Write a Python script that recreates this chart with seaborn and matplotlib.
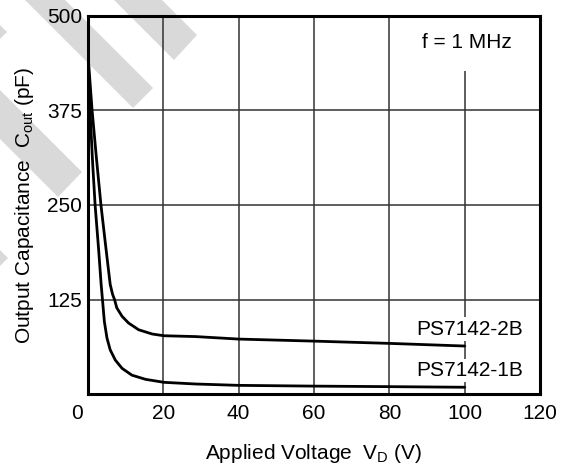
import numpy as np
import pandas as pd
import seaborn as sns
import matplotlib.pyplot as plt
import matplotlib.transforms as mtransforms
from matplotlib.patches import Polygon

# Curve data
v_1b = [0.1, 0.6, 1.3, 1.95, 2.9, 3.55, 3.9, 4.4, 5.1, 5.95, 7.3, 9.1, 11.7, 15.3, 20.2, 28.6, 40, 60, 80, 100]
c_1b = [446, 375, 305, 250, 190, 145, 125, 96, 74, 58.5, 45, 34, 25, 19.5, 15.5, 13.3, 11.5, 10.5, 9.8, 9.0]

v_2b = [0.1, 1.15, 2.3, 3.5, 4.7, 5.95, 6.6, 7.1, 7.7, 9.1, 10.8, 13.5, 17.1, 20.2, 28.6, 40, 60, 80, 100]
c_2b = [446, 375, 312, 250, 198, 145, 131.6, 125, 114, 102.8, 94, 85, 79.4, 77.1, 76, 72.7, 70, 67, 63.5]

x_ticks = [0, 20, 40, 60, 80, 100, 120]
y_ticks = [125, 250, 375, 500]

df = pd.concat([
    pd.DataFrame({'voltage': v_1b, 'cap': c_1b, 'device': 'PS7142-1B'}),
    pd.DataFrame({'voltage': v_2b, 'cap': c_2b, 'device': 'PS7142-2B'}),
])

sns.set_theme(style='white')
plt.rcParams['font.family'] = ['Liberation Sans', 'DejaVu Sans']
plt.rcParams['mathtext.fontset'] = 'custom'
plt.rcParams['mathtext.rm'] = 'Liberation Sans'

fig = plt.figure(figsize=(5.68, 4.68), dpi=100)
fig.patch.set_facecolor('white')

# grey diagonal watermark bands behind the chart (pixel coords, y down)
bands = [((197, 35), (174, 60)), ((153, 88), (133, 108)), ((82, 172), (58, 197)),
         ((8, 258), (-16, 282)), ((7, 32), (-17, 56))]
L = 400
for (x1, y1), (x2, y2) in bands:
    pts = [(x1, y1), (x2, y2), (x2 - L, y2 - L), (x1 - L, y1 - L)]
    pts = [(x / 568, 1 - y / 468) for x, y in pts]
    fig.add_artist(Polygon(pts, closed=True, transform=fig.transFigure,
                           facecolor='#d9d9d9', edgecolor='none', zorder=-1))

ax = fig.add_axes([0.1545, 0.158, 0.7965, 0.808])
ax.set_facecolor('none')

sns.lineplot(data=df, x='voltage', y='cap', hue='device', palette=['black', 'black'],
             estimator=None, legend=False, linewidth=2.0, ax=ax, zorder=3,
             solid_joinstyle='round')

ax.set_xlim(0, 120)
ax.set_ylim(0, 500)
ax.set_xticks(x_ticks)
ax.set_yticks(y_ticks)
ax.grid(True, color='#333333', linewidth=1.1)
for g in ax.get_xgridlines()[5:]:
    g.set_visible(False)
ax.vlines(100, 0, 427, color='#333333', linewidth=1.1, zorder=1)

for s in ax.spines.values():
    s.set_color('black')
    s.set_linewidth(2.2)
    s.set_zorder(5)

ax.tick_params(axis='both', length=0, labelsize=15, colors='black')
ax.tick_params(axis='x', pad=7)
ax.tick_params(axis='y', pad=4)
lbl0 = ax.xaxis.get_major_ticks()[0].label1
lbl0.set_transform(lbl0.get_transform() + mtransforms.ScaledTranslation(-0.11, 0, fig.dpi_scale_trans))

ax.set_xlabel(r'Applied Voltage  V$_\mathregular{D}$ (V)', fontsize=15, color='black', labelpad=14)
ax.set_ylabel(r'Output Capacitance  C$_\mathregular{out}$ (pF)', fontsize=15, color='black', labelpad=8)

box = dict(facecolor='white', edgecolor='none', pad=1.5)
ax.text(100.6, 465, 'f = 1 MHz', ha='center', va='center', fontsize=15, color='black')
ax.text(101.4, 86, 'PS7142-2B', ha='center', va='center', fontsize=15, color='black', bbox=box, zorder=2)
ax.text(101.4, 30.6, 'PS7142-1B', ha='center', va='center', fontsize=15, color='black', bbox=box, zorder=2)

fig.savefig('out.png', dpi=100)
